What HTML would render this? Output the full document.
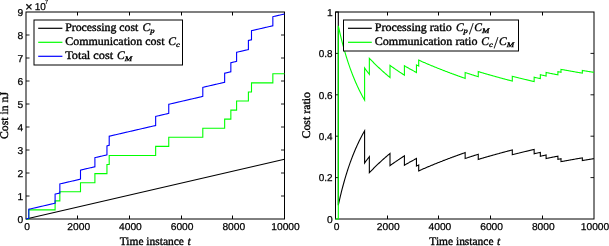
<!DOCTYPE html>
<html><head><meta charset="utf-8"><title>Cost plots</title>
<style>html,body{margin:0;padding:0;background:#fff;}svg{display:block;}text{text-rendering:geometricPrecision;}.tk{font-family:"Liberation Sans",Arial,sans-serif;font-size:10px;fill:#000;stroke:#000;stroke-width:0.25px;}.sr{font-family:"Liberation Serif","Times New Roman",serif;font-size:11.6px;fill:#000;stroke:#000;stroke-width:0.35px;}.it{font-style:italic;}.sub{font-size:7.1px;font-style:italic;}</style></head><body>
<svg width="609" height="246" viewBox="0 0 609 246">
<rect x="0" y="0" width="609" height="246" fill="#fff"/>
<rect x="26.00" y="12.00" width="258.50" height="207.00" fill="none" stroke="#000" stroke-width="1"/>
<path d="M77.50 219.00V215.50M77.50 12.00V15.50" stroke="#000" stroke-width="1" fill="none"/>
<path d="M129.50 219.00V215.50M129.50 12.00V15.50" stroke="#000" stroke-width="1" fill="none"/>
<path d="M181.50 219.00V215.50M181.50 12.00V15.50" stroke="#000" stroke-width="1" fill="none"/>
<path d="M232.50 219.00V215.50M232.50 12.00V15.50" stroke="#000" stroke-width="1" fill="none"/>
<path d="M26.00 196.00H29.50M284.50 196.00H281.00" stroke="#000" stroke-width="0.9" fill="none"/>
<path d="M26.00 173.00H29.50M284.50 173.00H281.00" stroke="#000" stroke-width="0.9" fill="none"/>
<path d="M26.00 150.00H29.50M284.50 150.00H281.00" stroke="#000" stroke-width="0.9" fill="none"/>
<path d="M26.00 127.00H29.50M284.50 127.00H281.00" stroke="#000" stroke-width="0.9" fill="none"/>
<path d="M26.00 104.00H29.50M284.50 104.00H281.00" stroke="#000" stroke-width="0.9" fill="none"/>
<path d="M26.00 81.00H29.50M284.50 81.00H281.00" stroke="#000" stroke-width="0.9" fill="none"/>
<path d="M26.00 58.00H29.50M284.50 58.00H281.00" stroke="#000" stroke-width="0.9" fill="none"/>
<path d="M26.00 35.00H29.50M284.50 35.00H281.00" stroke="#000" stroke-width="0.9" fill="none"/>
<text class="tk" x="27.00" y="229.6" text-anchor="middle" textLength="5.70" lengthAdjust="spacingAndGlyphs">0</text>
<text class="tk" x="78.70" y="229.6" text-anchor="middle" textLength="22.80" lengthAdjust="spacingAndGlyphs">2000</text>
<text class="tk" x="130.40" y="229.6" text-anchor="middle" textLength="22.80" lengthAdjust="spacingAndGlyphs">4000</text>
<text class="tk" x="182.10" y="229.6" text-anchor="middle" textLength="22.80" lengthAdjust="spacingAndGlyphs">6000</text>
<text class="tk" x="233.80" y="229.6" text-anchor="middle" textLength="22.80" lengthAdjust="spacingAndGlyphs">8000</text>
<text class="tk" x="285.50" y="229.6" text-anchor="middle" textLength="28.50" lengthAdjust="spacingAndGlyphs">10000</text>
<text class="tk" x="23.10" y="222.80" text-anchor="end" textLength="5.70" lengthAdjust="spacingAndGlyphs">0</text>
<text class="tk" x="23.10" y="199.80" text-anchor="end" textLength="5.70" lengthAdjust="spacingAndGlyphs">1</text>
<text class="tk" x="23.10" y="176.80" text-anchor="end" textLength="5.70" lengthAdjust="spacingAndGlyphs">2</text>
<text class="tk" x="23.10" y="153.80" text-anchor="end" textLength="5.70" lengthAdjust="spacingAndGlyphs">3</text>
<text class="tk" x="23.10" y="130.80" text-anchor="end" textLength="5.70" lengthAdjust="spacingAndGlyphs">4</text>
<text class="tk" x="23.10" y="107.80" text-anchor="end" textLength="5.70" lengthAdjust="spacingAndGlyphs">5</text>
<text class="tk" x="23.10" y="84.80" text-anchor="end" textLength="5.70" lengthAdjust="spacingAndGlyphs">6</text>
<text class="tk" x="23.10" y="61.80" text-anchor="end" textLength="5.70" lengthAdjust="spacingAndGlyphs">7</text>
<text class="tk" x="23.10" y="38.80" text-anchor="end" textLength="5.70" lengthAdjust="spacingAndGlyphs">8</text>
<text class="tk" x="23.10" y="15.80" text-anchor="end" textLength="5.70" lengthAdjust="spacingAndGlyphs">9</text>
<g fill="none" stroke-width="1.1" stroke-linejoin="miter">
<polyline stroke="#000" points="26.00,219.00 284.50,159.20"/>
<polyline stroke="#00ff00" points="26.00,219.00 26.00,219.00 26.47,219.00 26.93,219.00 27.40,219.00 27.87,219.00 28.33,219.00 28.80,219.00 28.80,209.92 29.32,209.92 29.83,209.92 30.35,209.92 30.86,209.92 31.38,209.92 31.89,209.92 32.41,209.92 32.93,209.92 33.44,209.92 33.96,209.92 34.47,209.92 34.99,209.92 35.50,209.92 36.02,209.92 36.54,209.92 37.05,209.92 37.57,209.92 38.08,209.92 38.60,209.92 39.11,209.92 39.63,209.92 40.15,209.92 40.66,209.92 41.18,209.92 41.69,209.92 42.21,209.92 42.72,209.92 43.24,209.92 43.75,209.92 44.27,209.92 44.79,209.92 45.30,209.92 45.82,209.92 46.33,209.92 46.85,209.92 47.36,209.92 47.88,209.92 48.40,209.92 48.91,209.92 49.43,209.92 49.94,209.92 50.46,209.92 50.97,209.92 51.49,209.92 52.01,209.92 52.52,209.92 53.04,209.92 53.55,209.92 54.07,209.92 54.58,209.92 55.10,209.92 55.10,200.85 55.58,200.85 56.05,200.85 56.53,200.85 57.00,200.85 57.48,200.85 57.95,200.85 58.43,200.85 58.90,200.85 59.38,200.85 59.85,200.85 59.85,191.77 60.37,191.77 60.88,191.77 61.40,191.77 61.92,191.77 62.43,191.77 62.95,191.77 63.46,191.77 63.98,191.77 64.50,191.77 65.01,191.77 65.53,191.77 66.05,191.77 66.56,191.77 67.08,191.77 67.59,191.77 68.11,191.77 68.63,191.77 69.14,191.77 69.66,191.77 70.17,191.77 70.69,191.77 71.21,191.77 71.72,191.77 72.24,191.77 72.76,191.77 73.27,191.77 73.79,191.77 74.31,191.77 74.82,191.77 75.34,191.77 75.85,191.77 76.37,191.77 76.89,191.77 77.40,191.77 77.92,191.77 78.44,191.77 78.95,191.77 79.47,191.77 79.98,191.77 80.50,191.77 80.50,182.70 81.01,182.70 81.53,182.70 82.04,182.70 82.56,182.70 83.07,182.70 83.59,182.70 84.10,182.70 84.61,182.70 85.13,182.70 85.64,182.70 86.16,182.70 86.67,182.70 87.19,182.70 87.70,182.70 88.21,182.70 88.73,182.70 89.24,182.70 89.76,182.70 90.27,182.70 90.79,182.70 91.30,182.70 91.81,182.70 92.33,182.70 92.84,182.70 93.36,182.70 93.87,182.70 94.39,182.70 94.90,182.70 94.90,173.62 95.40,173.62 95.90,173.62 96.41,173.62 96.91,173.62 97.41,173.62 97.91,173.62 98.41,173.62 98.92,173.62 99.42,173.62 99.92,173.62 100.42,173.62 100.92,173.62 101.43,173.62 101.93,173.62 102.43,173.62 102.93,173.62 103.44,173.62 103.94,173.62 104.44,173.62 104.94,173.62 105.44,173.62 105.95,173.62 106.45,173.62 106.95,173.62 106.95,164.55 107.40,164.55 107.85,164.55 108.30,164.55 108.75,164.55 109.20,164.55 109.20,155.47 109.72,155.47 110.23,155.47 110.75,155.47 111.26,155.47 111.78,155.47 112.30,155.47 112.81,155.47 113.33,155.47 113.85,155.47 114.36,155.47 114.88,155.47 115.39,155.47 115.91,155.47 116.43,155.47 116.94,155.47 117.46,155.47 117.97,155.47 118.49,155.47 119.01,155.47 119.52,155.47 120.04,155.47 120.55,155.47 121.07,155.47 121.59,155.47 122.10,155.47 122.62,155.47 123.14,155.47 123.65,155.47 124.17,155.47 124.68,155.47 125.20,155.47 125.72,155.47 126.23,155.47 126.75,155.47 127.26,155.47 127.78,155.47 128.30,155.47 128.81,155.47 129.33,155.47 129.84,155.47 130.36,155.47 130.88,155.47 131.39,155.47 131.91,155.47 132.43,155.47 132.94,155.47 133.46,155.47 133.97,155.47 134.49,155.47 135.01,155.47 135.52,155.47 136.04,155.47 136.55,155.47 137.07,155.47 137.59,155.47 138.10,155.47 138.62,155.47 139.13,155.47 139.65,155.47 140.17,155.47 140.68,155.47 141.20,155.47 141.72,155.47 142.23,155.47 142.75,155.47 143.26,155.47 143.78,155.47 144.30,155.47 144.81,155.47 145.33,155.47 145.84,155.47 146.36,155.47 146.88,155.47 147.39,155.47 147.91,155.47 148.42,155.47 148.94,155.47 149.46,155.47 149.97,155.47 150.49,155.47 151.00,155.47 151.52,155.47 152.04,155.47 152.55,155.47 153.07,155.47 153.59,155.47 154.10,155.47 154.62,155.47 155.13,155.47 155.65,155.47 155.65,146.39 156.15,146.39 156.66,146.39 157.16,146.39 157.67,146.39 158.17,146.39 158.67,146.39 159.18,146.39 159.68,146.39 160.18,146.39 160.69,146.39 161.19,146.39 161.70,146.39 162.20,146.39 162.70,146.39 163.21,146.39 163.71,146.39 164.22,146.39 164.72,146.39 165.22,146.39 165.73,146.39 166.23,146.39 166.73,146.39 167.24,146.39 167.74,146.39 168.25,146.39 168.75,146.39 168.75,137.32 169.27,137.32 169.78,137.32 170.30,137.32 170.81,137.32 171.33,137.32 171.85,137.32 172.36,137.32 172.88,137.32 173.39,137.32 173.91,137.32 174.43,137.32 174.94,137.32 175.46,137.32 175.97,137.32 176.49,137.32 177.00,137.32 177.52,137.32 178.04,137.32 178.55,137.32 179.07,137.32 179.58,137.32 180.10,137.32 180.62,137.32 181.13,137.32 181.65,137.32 182.16,137.32 182.68,137.32 183.20,137.32 183.71,137.32 184.23,137.32 184.74,137.32 185.26,137.32 185.78,137.32 186.29,137.32 186.81,137.32 187.32,137.32 187.84,137.32 188.35,137.32 188.87,137.32 189.39,137.32 189.90,137.32 190.42,137.32 190.93,137.32 191.45,137.32 191.97,137.32 192.48,137.32 193.00,137.32 193.51,137.32 194.03,137.32 194.55,137.32 195.06,137.32 195.58,137.32 196.09,137.32 196.61,137.32 197.12,137.32 197.64,137.32 198.16,137.32 198.67,137.32 199.19,137.32 199.70,137.32 200.22,137.32 200.74,137.32 201.25,137.32 201.77,137.32 202.28,137.32 202.80,137.32 202.80,128.24 203.31,128.24 203.82,128.24 204.32,128.24 204.83,128.24 205.34,128.24 205.85,128.24 206.36,128.24 206.87,128.24 207.37,128.24 207.88,128.24 208.39,128.24 208.90,128.24 209.41,128.24 209.91,128.24 210.42,128.24 210.93,128.24 211.44,128.24 211.95,128.24 212.45,128.24 212.96,128.24 213.47,128.24 213.98,128.24 214.49,128.24 215.00,128.24 215.50,128.24 216.01,128.24 216.52,128.24 217.03,128.24 217.54,128.24 218.04,128.24 218.55,128.24 219.06,128.24 219.57,128.24 220.08,128.24 220.58,128.24 221.09,128.24 221.60,128.24 222.11,128.24 222.62,128.24 223.13,128.24 223.63,128.24 224.14,128.24 224.65,128.24 224.65,119.17 225.17,119.17 225.68,119.17 226.20,119.17 226.72,119.17 227.23,119.17 227.75,119.17 228.27,119.17 228.78,119.17 229.30,119.17 229.82,119.17 230.33,119.17 230.85,119.17 230.85,110.09 231.33,110.09 231.81,110.09 232.29,110.09 232.77,110.09 233.25,110.09 233.73,110.09 234.20,110.09 234.68,110.09 235.16,110.09 235.64,110.09 236.12,110.09 236.60,110.09 236.60,101.01 237.11,101.01 237.63,101.01 238.14,101.01 238.65,101.01 239.17,101.01 239.68,101.01 240.19,101.01 240.70,101.01 241.22,101.01 241.73,101.01 242.24,101.01 242.76,101.01 243.27,101.01 243.78,101.01 244.30,101.01 244.81,101.01 245.32,101.01 245.83,101.01 246.35,101.01 246.86,101.01 247.37,101.01 247.89,101.01 248.40,101.01 248.40,91.94 248.92,91.94 249.43,91.94 249.95,91.94 250.47,91.94 250.98,91.94 251.50,91.94 251.50,82.86 252.01,82.86 252.52,82.86 253.02,82.86 253.53,82.86 254.04,82.86 254.55,82.86 255.06,82.86 255.57,82.86 256.07,82.86 256.58,82.86 257.09,82.86 257.60,82.86 258.11,82.86 258.62,82.86 259.12,82.86 259.63,82.86 260.14,82.86 260.65,82.86 261.16,82.86 261.67,82.86 262.17,82.86 262.68,82.86 263.19,82.86 263.70,82.86 264.21,82.86 264.72,82.86 265.23,82.86 265.73,82.86 266.24,82.86 266.75,82.86 267.26,82.86 267.77,82.86 268.27,82.86 268.78,82.86 269.29,82.86 269.80,82.86 270.31,82.86 270.82,82.86 271.32,82.86 271.83,82.86 272.34,82.86 272.85,82.86 272.85,73.79 273.36,73.79 273.86,73.79 274.37,73.79 274.88,73.79 275.38,73.79 275.89,73.79 276.40,73.79 276.90,73.79 277.41,73.79 277.92,73.79 278.42,73.79 278.93,73.79 279.43,73.79 279.94,73.79 280.45,73.79 280.95,73.79 281.46,73.79 281.97,73.79 282.47,73.79 282.98,73.79 283.49,73.79 283.99,73.79 284.50,73.79"/>
<polyline stroke="#0000ff" points="26.00,219.00 26.00,219.00 26.47,218.89 26.93,218.78 27.40,218.68 27.87,218.57 28.33,218.46 28.80,218.35 28.80,209.28 29.32,209.16 29.83,209.04 30.35,208.92 30.86,208.80 31.38,208.68 31.89,208.56 32.41,208.44 32.93,208.32 33.44,208.20 33.96,208.08 34.47,207.96 34.99,207.84 35.50,207.73 36.02,207.61 36.54,207.49 37.05,207.37 37.57,207.25 38.08,207.13 38.60,207.01 39.11,206.89 39.63,206.77 40.15,206.65 40.66,206.53 41.18,206.41 41.69,206.29 42.21,206.17 42.72,206.06 43.24,205.94 43.75,205.82 44.27,205.70 44.79,205.58 45.30,205.46 45.82,205.34 46.33,205.22 46.85,205.10 47.36,204.98 47.88,204.86 48.40,204.74 48.91,204.62 49.43,204.50 49.94,204.39 50.46,204.27 50.97,204.15 51.49,204.03 52.01,203.91 52.52,203.79 53.04,203.67 53.55,203.55 54.07,203.43 54.58,203.31 55.10,203.19 55.10,194.12 55.58,194.01 56.05,193.90 56.53,193.79 57.00,193.68 57.48,193.57 57.95,193.46 58.43,193.35 58.90,193.24 59.38,193.13 59.85,193.02 59.85,183.94 60.37,183.82 60.88,183.70 61.40,183.58 61.92,183.46 62.43,183.34 62.95,183.23 63.46,183.11 63.98,182.99 64.50,182.87 65.01,182.75 65.53,182.63 66.05,182.51 66.56,182.39 67.08,182.27 67.59,182.15 68.11,182.03 68.63,181.91 69.14,181.79 69.66,181.67 70.17,181.55 70.69,181.43 71.21,181.31 71.72,181.20 72.24,181.08 72.76,180.96 73.27,180.84 73.79,180.72 74.31,180.60 74.82,180.48 75.34,180.36 75.85,180.24 76.37,180.12 76.89,180.00 77.40,179.88 77.92,179.76 78.44,179.64 78.95,179.52 79.47,179.40 79.98,179.28 80.50,179.16 80.50,170.09 81.01,169.97 81.53,169.85 82.04,169.73 82.56,169.61 83.07,169.49 83.59,169.38 84.10,169.26 84.61,169.14 85.13,169.02 85.64,168.90 86.16,168.78 86.67,168.66 87.19,168.54 87.70,168.42 88.21,168.30 88.73,168.19 89.24,168.07 89.76,167.95 90.27,167.83 90.79,167.71 91.30,167.59 91.81,167.47 92.33,167.35 92.84,167.23 93.36,167.11 93.87,167.00 94.39,166.88 94.90,166.76 94.90,157.68 95.40,157.57 95.90,157.45 96.41,157.33 96.91,157.22 97.41,157.10 97.91,156.99 98.41,156.87 98.92,156.75 99.42,156.64 99.92,156.52 100.42,156.40 100.92,156.29 101.43,156.17 101.93,156.06 102.43,155.94 102.93,155.82 103.44,155.71 103.94,155.59 104.44,155.48 104.94,155.36 105.44,155.24 105.95,155.13 106.45,155.01 106.95,154.89 106.95,145.82 107.40,145.71 107.85,145.61 108.30,145.51 108.75,145.40 109.20,145.30 109.20,136.22 109.72,136.10 110.23,135.98 110.75,135.86 111.26,135.74 111.78,135.63 112.30,135.51 112.81,135.39 113.33,135.27 113.85,135.15 114.36,135.03 114.88,134.91 115.39,134.79 115.91,134.67 116.43,134.55 116.94,134.43 117.46,134.31 117.97,134.19 118.49,134.07 119.01,133.95 119.52,133.83 120.04,133.72 120.55,133.60 121.07,133.48 121.59,133.36 122.10,133.24 122.62,133.12 123.14,133.00 123.65,132.88 124.17,132.76 124.68,132.64 125.20,132.52 125.72,132.40 126.23,132.28 126.75,132.16 127.26,132.04 127.78,131.92 128.30,131.80 128.81,131.69 129.33,131.57 129.84,131.45 130.36,131.33 130.88,131.21 131.39,131.09 131.91,130.97 132.43,130.85 132.94,130.73 133.46,130.61 133.97,130.49 134.49,130.37 135.01,130.25 135.52,130.13 136.04,130.01 136.55,129.89 137.07,129.78 137.59,129.66 138.10,129.54 138.62,129.42 139.13,129.30 139.65,129.18 140.17,129.06 140.68,128.94 141.20,128.82 141.72,128.70 142.23,128.58 142.75,128.46 143.26,128.34 143.78,128.22 144.30,128.10 144.81,127.98 145.33,127.86 145.84,127.75 146.36,127.63 146.88,127.51 147.39,127.39 147.91,127.27 148.42,127.15 148.94,127.03 149.46,126.91 149.97,126.79 150.49,126.67 151.00,126.55 151.52,126.43 152.04,126.31 152.55,126.19 153.07,126.07 153.59,125.95 154.10,125.84 154.62,125.72 155.13,125.60 155.65,125.48 155.65,116.40 156.15,116.28 156.66,116.17 157.16,116.05 157.67,115.93 158.17,115.82 158.67,115.70 159.18,115.59 159.68,115.47 160.18,115.35 160.69,115.24 161.19,115.12 161.70,115.00 162.20,114.89 162.70,114.77 163.21,114.65 163.71,114.54 164.22,114.42 164.72,114.30 165.22,114.19 165.73,114.07 166.23,113.95 166.73,113.84 167.24,113.72 167.74,113.60 168.25,113.49 168.75,113.37 168.75,104.29 169.27,104.18 169.78,104.06 170.30,103.94 170.81,103.82 171.33,103.70 171.85,103.58 172.36,103.46 172.88,103.34 173.39,103.22 173.91,103.10 174.43,102.98 174.94,102.86 175.46,102.74 175.97,102.62 176.49,102.50 177.00,102.39 177.52,102.27 178.04,102.15 178.55,102.03 179.07,101.91 179.58,101.79 180.10,101.67 180.62,101.55 181.13,101.43 181.65,101.31 182.16,101.19 182.68,101.07 183.20,100.95 183.71,100.83 184.23,100.71 184.74,100.60 185.26,100.48 185.78,100.36 186.29,100.24 186.81,100.12 187.32,100.00 187.84,99.88 188.35,99.76 188.87,99.64 189.39,99.52 189.90,99.40 190.42,99.28 190.93,99.16 191.45,99.04 191.97,98.92 192.48,98.80 193.00,98.69 193.51,98.57 194.03,98.45 194.55,98.33 195.06,98.21 195.58,98.09 196.09,97.97 196.61,97.85 197.12,97.73 197.64,97.61 198.16,97.49 198.67,97.37 199.19,97.25 199.70,97.13 200.22,97.01 200.74,96.90 201.25,96.78 201.77,96.66 202.28,96.54 202.80,96.42 202.80,87.34 203.31,87.22 203.82,87.11 204.32,86.99 204.83,86.87 205.34,86.75 205.85,86.64 206.36,86.52 206.87,86.40 207.37,86.28 207.88,86.17 208.39,86.05 208.90,85.93 209.41,85.81 209.91,85.70 210.42,85.58 210.93,85.46 211.44,85.34 211.95,85.23 212.45,85.11 212.96,84.99 213.47,84.87 213.98,84.76 214.49,84.64 215.00,84.52 215.50,84.40 216.01,84.29 216.52,84.17 217.03,84.05 217.54,83.93 218.04,83.82 218.55,83.70 219.06,83.58 219.57,83.46 220.08,83.35 220.58,83.23 221.09,83.11 221.60,82.99 222.11,82.88 222.62,82.76 223.13,82.64 223.63,82.52 224.14,82.40 224.65,82.29 224.65,73.21 225.17,73.09 225.68,72.97 226.20,72.85 226.72,72.73 227.23,72.61 227.75,72.49 228.27,72.37 228.78,72.26 229.30,72.14 229.82,72.02 230.33,71.90 230.85,71.78 230.85,62.70 231.33,62.59 231.81,62.48 232.29,62.37 232.77,62.26 233.25,62.15 233.73,62.04 234.20,61.93 234.68,61.81 235.16,61.70 235.64,61.59 236.12,61.48 236.60,61.37 236.60,52.30 237.11,52.18 237.63,52.06 238.14,51.94 238.65,51.82 239.17,51.70 239.68,51.58 240.19,51.46 240.70,51.35 241.22,51.23 241.73,51.11 242.24,50.99 242.76,50.87 243.27,50.75 243.78,50.63 244.30,50.52 244.81,50.40 245.32,50.28 245.83,50.16 246.35,50.04 246.86,49.92 247.37,49.80 247.89,49.68 248.40,49.57 248.40,40.49 248.92,40.37 249.43,40.25 249.95,40.13 250.47,40.01 250.98,39.89 251.50,39.77 251.50,30.70 252.01,30.58 252.52,30.46 253.02,30.34 253.53,30.23 254.04,30.11 254.55,29.99 255.06,29.87 255.57,29.76 256.07,29.64 256.58,29.52 257.09,29.40 257.60,29.29 258.11,29.17 258.62,29.05 259.12,28.93 259.63,28.82 260.14,28.70 260.65,28.58 261.16,28.46 261.67,28.35 262.17,28.23 262.68,28.11 263.19,27.99 263.70,27.87 264.21,27.76 264.72,27.64 265.23,27.52 265.73,27.40 266.24,27.29 266.75,27.17 267.26,27.05 267.77,26.93 268.27,26.82 268.78,26.70 269.29,26.58 269.80,26.46 270.31,26.35 270.82,26.23 271.32,26.11 271.83,25.99 272.34,25.88 272.85,25.76 272.85,16.68 273.36,16.57 273.86,16.45 274.37,16.33 274.88,16.21 275.38,16.10 275.89,15.98 276.40,15.86 276.90,15.74 277.41,15.63 277.92,15.51 278.42,15.39 278.93,15.28 279.43,15.16 279.94,15.04 280.45,14.92 280.95,14.81 281.46,14.69 281.97,14.57 282.47,14.46 282.98,14.34 283.49,14.22 283.99,14.10 284.50,13.99"/>
</g>
<text class="tk" x="25.2" y="10.6" style="font-size:12.5px">×</text>
<text class="tk" x="34.8" y="9.7">10</text>
<text class="tk" x="44.8" y="4.0" style="font-size:6.3px;stroke-width:0.15px">7</text>
<text class="sr" transform="translate(8.0,115.5) rotate(-90)" text-anchor="middle" textLength="47" lengthAdjust="spacingAndGlyphs">Cost in nJ</text>
<text class="sr" x="119.7" y="245.4"><tspan textLength="64.2" lengthAdjust="spacingAndGlyphs">Time instance</tspan><tspan class="it" x="187.4">t</tspan></text>
<rect x="34.0" y="20.0" width="148.5" height="45.0" fill="#fff" stroke="#000" stroke-width="1"/>
<path d="M38.2 28.30H62.4" stroke="#000" stroke-width="1.2" fill="none"/>
<path d="M38.2 42.30H62.4" stroke="#00ff00" stroke-width="1.2" fill="none"/>
<path d="M38.2 56.30H62.4" stroke="#0000ff" stroke-width="1.2" fill="none"/>
<text class="sr" x="65.2" y="31.4"><tspan textLength="73.2" lengthAdjust="spacingAndGlyphs">Processing cost</tspan><tspan class="it" x="142.6">C</tspan><tspan class="sub" dy="1.8" textLength="4.3" lengthAdjust="spacingAndGlyphs">p</tspan></text>
<text class="sr" x="65.2" y="45.4"><tspan textLength="99.3" lengthAdjust="spacingAndGlyphs">Communication cost</tspan><tspan class="it" x="168.2">C</tspan><tspan class="sub" dy="1.8" textLength="3.8" lengthAdjust="spacingAndGlyphs">c</tspan></text>
<text class="sr" x="65.2" y="59.4"><tspan textLength="48" lengthAdjust="spacingAndGlyphs">Total cost</tspan><tspan class="it" x="117">C</tspan><tspan class="sub" dy="1.8" textLength="7.4" lengthAdjust="spacingAndGlyphs">M</tspan></text>
<rect x="335.50" y="12.00" width="258.50" height="207.00" fill="none" stroke="#000" stroke-width="1"/>
<path d="M387.50 219.00V215.50M387.50 12.00V15.50" stroke="#000" stroke-width="1" fill="none"/>
<path d="M438.50 219.00V215.50M438.50 12.00V15.50" stroke="#000" stroke-width="1" fill="none"/>
<path d="M490.50 219.00V215.50M490.50 12.00V15.50" stroke="#000" stroke-width="1" fill="none"/>
<path d="M542.50 219.00V215.50M542.50 12.00V15.50" stroke="#000" stroke-width="1" fill="none"/>
<path d="M335.50 177.60H339.00M594.00 177.60H590.50" stroke="#000" stroke-width="0.9" fill="none"/>
<path d="M335.50 136.20H339.00M594.00 136.20H590.50" stroke="#000" stroke-width="0.9" fill="none"/>
<path d="M335.50 94.80H339.00M594.00 94.80H590.50" stroke="#000" stroke-width="0.9" fill="none"/>
<path d="M335.50 53.40H339.00M594.00 53.40H590.50" stroke="#000" stroke-width="0.9" fill="none"/>
<text class="tk" x="336.50" y="229.6" text-anchor="middle" textLength="5.70" lengthAdjust="spacingAndGlyphs">0</text>
<text class="tk" x="388.20" y="229.6" text-anchor="middle" textLength="22.80" lengthAdjust="spacingAndGlyphs">2000</text>
<text class="tk" x="439.90" y="229.6" text-anchor="middle" textLength="22.80" lengthAdjust="spacingAndGlyphs">4000</text>
<text class="tk" x="491.60" y="229.6" text-anchor="middle" textLength="22.80" lengthAdjust="spacingAndGlyphs">6000</text>
<text class="tk" x="543.30" y="229.6" text-anchor="middle" textLength="22.80" lengthAdjust="spacingAndGlyphs">8000</text>
<text class="tk" x="595.00" y="229.6" text-anchor="middle" textLength="28.50" lengthAdjust="spacingAndGlyphs">10000</text>
<text class="tk" x="332.60" y="222.80" text-anchor="end" textLength="5.70" lengthAdjust="spacingAndGlyphs">0</text>
<text class="tk" x="332.60" y="181.40" text-anchor="end" textLength="13.80" lengthAdjust="spacingAndGlyphs">0.2</text>
<text class="tk" x="332.60" y="140.00" text-anchor="end" textLength="13.80" lengthAdjust="spacingAndGlyphs">0.4</text>
<text class="tk" x="332.60" y="98.60" text-anchor="end" textLength="13.80" lengthAdjust="spacingAndGlyphs">0.6</text>
<text class="tk" x="332.60" y="57.20" text-anchor="end" textLength="13.80" lengthAdjust="spacingAndGlyphs">0.8</text>
<text class="tk" x="332.60" y="15.80" text-anchor="end" textLength="5.70" lengthAdjust="spacingAndGlyphs">1</text>
<g fill="none" stroke-width="1.1" stroke-linejoin="miter">
<polyline stroke="#000" points="335.50,12.00 335.50,12.00 335.97,12.00 336.43,12.00 336.90,12.00 337.37,12.00 337.83,12.00 338.30,12.00 338.30,205.21 338.82,202.87 339.33,200.58 339.85,198.35 340.36,196.17 340.88,194.04 341.39,191.96 341.91,189.93 342.43,187.94 342.94,186.00 343.46,184.10 343.97,182.24 344.49,180.42 345.00,178.63 345.52,176.89 346.04,175.18 346.55,173.51 347.07,171.87 347.58,170.26 348.10,168.69 348.61,167.14 349.13,165.63 349.65,164.14 350.16,162.69 350.68,161.26 351.19,159.86 351.71,158.48 352.22,157.13 352.74,155.81 353.25,154.51 353.77,153.23 354.29,151.97 354.80,150.74 355.32,149.53 355.83,148.34 356.35,147.17 356.86,146.02 357.38,144.89 357.90,143.78 358.41,142.68 358.93,141.61 359.44,140.55 359.96,139.51 360.47,138.48 360.99,137.48 361.51,136.48 362.02,135.51 362.54,134.55 363.05,133.60 363.57,132.67 364.08,131.75 364.60,130.85 364.60,163.00 365.07,162.34 365.55,161.68 366.02,161.03 366.50,160.38 366.98,159.74 367.45,159.10 367.93,158.47 368.40,157.85 368.88,157.23 369.35,156.61 369.35,172.76 369.87,172.22 370.38,171.68 370.90,171.14 371.42,170.60 371.93,170.07 372.45,169.54 372.96,169.02 373.48,168.50 374.00,167.98 374.51,167.47 375.03,166.96 375.55,166.45 376.06,165.95 376.58,165.45 377.09,164.95 377.61,164.45 378.13,163.96 378.64,163.48 379.16,162.99 379.68,162.51 380.19,162.03 380.71,161.56 381.22,161.08 381.74,160.61 382.26,160.15 382.77,159.68 383.29,159.22 383.81,158.76 384.32,158.31 384.84,157.86 385.35,157.41 385.87,156.96 386.39,156.52 386.90,156.08 387.42,155.64 387.94,155.20 388.45,154.77 388.97,154.34 389.48,153.91 390.00,153.48 390.00,165.64 390.51,165.27 391.03,164.90 391.54,164.53 392.06,164.16 392.57,163.80 393.09,163.43 393.60,163.07 394.11,162.71 394.63,162.35 395.14,161.99 395.66,161.64 396.17,161.28 396.69,160.93 397.20,160.58 397.71,160.23 398.23,159.89 398.74,159.54 399.26,159.20 399.77,158.85 400.29,158.51 400.80,158.18 401.31,157.84 401.83,157.50 402.34,157.17 402.86,156.83 403.37,156.50 403.89,156.17 404.40,155.84 404.40,165.19 404.90,164.90 405.40,164.61 405.91,164.33 406.41,164.04 406.91,163.76 407.41,163.47 407.91,163.19 408.42,162.91 408.92,162.62 409.42,162.34 409.92,162.07 410.43,161.79 410.93,161.51 411.43,161.23 411.93,160.96 412.43,160.69 412.94,160.41 413.44,160.14 413.94,159.87 414.44,159.60 414.94,159.33 415.45,159.06 415.95,158.80 416.45,158.53 416.45,166.03 416.90,165.81 417.35,165.59 417.80,165.38 418.25,165.16 418.70,164.94 418.70,170.87 419.22,170.64 419.73,170.41 420.25,170.18 420.76,169.96 421.28,169.73 421.80,169.51 422.31,169.28 422.83,169.06 423.35,168.83 423.86,168.61 424.38,168.39 424.89,168.17 425.41,167.95 425.93,167.72 426.44,167.51 426.96,167.29 427.47,167.07 427.99,166.85 428.51,166.63 429.02,166.41 429.54,166.20 430.05,165.98 430.57,165.77 431.09,165.55 431.60,165.34 432.12,165.13 432.63,164.91 433.15,164.70 433.67,164.49 434.18,164.28 434.70,164.07 435.22,163.86 435.73,163.65 436.25,163.44 436.76,163.23 437.28,163.03 437.80,162.82 438.31,162.61 438.83,162.41 439.34,162.20 439.86,162.00 440.38,161.80 440.89,161.59 441.41,161.39 441.93,161.19 442.44,160.98 442.96,160.78 443.47,160.58 443.99,160.38 444.51,160.18 445.02,159.98 445.54,159.79 446.05,159.59 446.57,159.39 447.09,159.19 447.60,159.00 448.12,158.80 448.63,158.60 449.15,158.41 449.67,158.22 450.18,158.02 450.70,157.83 451.22,157.64 451.73,157.44 452.25,157.25 452.76,157.06 453.28,156.87 453.80,156.68 454.31,156.49 454.83,156.30 455.34,156.11 455.86,155.92 456.38,155.74 456.89,155.55 457.41,155.36 457.92,155.17 458.44,154.99 458.96,154.80 459.47,154.62 459.99,154.43 460.50,154.25 461.02,154.07 461.54,153.88 462.05,153.70 462.57,153.52 463.09,153.34 463.60,153.16 464.12,152.98 464.63,152.80 465.15,152.62 465.15,158.49 465.65,158.32 466.16,158.16 466.66,157.99 467.17,157.83 467.67,157.66 468.17,157.50 468.68,157.33 469.18,157.17 469.68,157.01 470.19,156.84 470.69,156.68 471.20,156.52 471.70,156.36 472.20,156.19 472.71,156.03 473.21,155.87 473.72,155.71 474.22,155.55 474.72,155.39 475.23,155.23 475.73,155.07 476.23,154.92 476.74,154.76 477.24,154.60 477.75,154.44 478.25,154.29 478.25,159.41 478.77,159.25 479.28,159.10 479.80,158.95 480.31,158.79 480.83,158.64 481.35,158.49 481.86,158.34 482.38,158.19 482.89,158.04 483.41,157.89 483.93,157.74 484.44,157.59 484.96,157.44 485.47,157.29 485.99,157.14 486.50,156.99 487.02,156.84 487.54,156.70 488.05,156.55 488.57,156.40 489.08,156.25 489.60,156.11 490.12,155.96 490.63,155.81 491.15,155.67 491.66,155.52 492.18,155.38 492.70,155.23 493.21,155.09 493.73,154.94 494.24,154.80 494.76,154.66 495.27,154.51 495.79,154.37 496.31,154.23 496.82,154.08 497.34,153.94 497.85,153.80 498.37,153.66 498.89,153.52 499.40,153.37 499.92,153.23 500.43,153.09 500.95,152.95 501.47,152.81 501.98,152.67 502.50,152.53 503.01,152.39 503.53,152.26 504.05,152.12 504.56,151.98 505.08,151.84 505.59,151.70 506.11,151.56 506.62,151.43 507.14,151.29 507.66,151.15 508.17,151.02 508.69,150.88 509.20,150.74 509.72,150.61 510.24,150.47 510.75,150.34 511.27,150.20 511.78,150.07 512.30,149.93 512.30,154.69 512.81,154.57 513.32,154.44 513.82,154.31 514.33,154.19 514.84,154.06 515.35,153.93 515.86,153.81 516.37,153.68 516.87,153.56 517.38,153.43 517.89,153.31 518.40,153.18 518.91,153.06 519.41,152.93 519.92,152.81 520.43,152.69 520.94,152.56 521.45,152.44 521.95,152.31 522.46,152.19 522.97,152.07 523.48,151.95 523.99,151.82 524.50,151.70 525.00,151.58 525.51,151.46 526.02,151.34 526.53,151.21 527.04,151.09 527.54,150.97 528.05,150.85 528.56,150.73 529.07,150.61 529.58,150.49 530.08,150.37 530.59,150.25 531.10,150.13 531.61,150.01 532.12,149.89 532.63,149.77 533.13,149.66 533.64,149.54 534.15,149.42 534.15,153.75 534.67,153.63 535.18,153.52 535.70,153.40 536.22,153.29 536.73,153.17 537.25,153.06 537.77,152.94 538.28,152.83 538.80,152.71 539.32,152.60 539.83,152.48 540.35,152.37 540.35,156.24 540.83,156.14 541.31,156.03 541.79,155.93 542.27,155.83 542.75,155.73 543.23,155.63 543.70,155.53 544.18,155.42 544.66,155.32 545.14,155.22 545.62,155.12 546.10,155.02 546.10,158.50 546.61,158.40 547.13,158.30 547.64,158.19 548.15,158.09 548.67,157.98 549.18,157.88 549.69,157.78 550.20,157.67 550.72,157.57 551.23,157.47 551.74,157.37 552.26,157.26 552.77,157.16 553.28,157.06 553.80,156.96 554.31,156.85 554.82,156.75 555.33,156.65 555.85,156.55 556.36,156.45 556.87,156.35 557.39,156.25 557.90,156.14 557.90,159.34 558.42,159.24 558.93,159.14 559.45,159.04 559.97,158.95 560.48,158.85 561.00,158.75 561.00,161.65 561.51,161.56 562.02,161.47 562.52,161.37 563.03,161.28 563.54,161.19 564.05,161.10 564.56,161.00 565.07,160.91 565.58,160.82 566.08,160.73 566.59,160.63 567.10,160.54 567.61,160.45 568.12,160.36 568.62,160.27 569.13,160.17 569.64,160.08 570.15,159.99 570.66,159.90 571.17,159.81 571.67,159.72 572.18,159.63 572.69,159.54 573.20,159.44 573.71,159.35 574.22,159.26 574.73,159.17 575.23,159.08 575.74,158.99 576.25,158.90 576.76,158.81 577.27,158.72 577.77,158.63 578.28,158.54 578.79,158.45 579.30,158.36 579.81,158.27 580.32,158.19 580.83,158.10 581.33,158.01 581.84,157.92 582.35,157.83 582.35,160.57 582.86,160.49 583.36,160.40 583.87,160.32 584.38,160.23 584.88,160.14 585.39,160.06 585.90,159.97 586.40,159.89 586.91,159.80 587.42,159.72 587.92,159.63 588.43,159.55 588.93,159.46 589.44,159.38 589.95,159.29 590.45,159.21 590.96,159.12 591.47,159.04 591.97,158.96 592.48,158.87 592.99,158.79 593.49,158.70 594.00,158.62"/>
<polyline stroke="#00ff00" points="335.50,219.00 335.50,219.00 335.97,219.00 336.43,219.00 336.90,219.00 337.37,219.00 337.83,219.00 338.30,219.00 338.30,25.79 338.82,28.13 339.33,30.42 339.85,32.65 340.36,34.83 340.88,36.96 341.39,39.04 341.91,41.07 342.43,43.06 342.94,45.00 343.46,46.90 343.97,48.76 344.49,50.58 345.00,52.37 345.52,54.11 346.04,55.82 346.55,57.49 347.07,59.13 347.58,60.74 348.10,62.31 348.61,63.86 349.13,65.37 349.65,66.86 350.16,68.31 350.68,69.74 351.19,71.14 351.71,72.52 352.22,73.87 352.74,75.19 353.25,76.49 353.77,77.77 354.29,79.03 354.80,80.26 355.32,81.47 355.83,82.66 356.35,83.83 356.86,84.98 357.38,86.11 357.90,87.22 358.41,88.32 358.93,89.39 359.44,90.45 359.96,91.49 360.47,92.52 360.99,93.52 361.51,94.52 362.02,95.49 362.54,96.45 363.05,97.40 363.57,98.33 364.08,99.25 364.60,100.15 364.60,68.00 365.07,68.66 365.55,69.32 366.02,69.97 366.50,70.62 366.98,71.26 367.45,71.90 367.93,72.53 368.40,73.15 368.88,73.77 369.35,74.39 369.35,58.24 369.87,58.78 370.38,59.32 370.90,59.86 371.42,60.40 371.93,60.93 372.45,61.46 372.96,61.98 373.48,62.50 374.00,63.02 374.51,63.53 375.03,64.04 375.55,64.55 376.06,65.05 376.58,65.55 377.09,66.05 377.61,66.55 378.13,67.04 378.64,67.52 379.16,68.01 379.68,68.49 380.19,68.97 380.71,69.44 381.22,69.92 381.74,70.39 382.26,70.85 382.77,71.32 383.29,71.78 383.81,72.24 384.32,72.69 384.84,73.14 385.35,73.59 385.87,74.04 386.39,74.48 386.90,74.92 387.42,75.36 387.94,75.80 388.45,76.23 388.97,76.66 389.48,77.09 390.00,77.52 390.00,65.36 390.51,65.73 391.03,66.10 391.54,66.47 392.06,66.84 392.57,67.20 393.09,67.57 393.60,67.93 394.11,68.29 394.63,68.65 395.14,69.01 395.66,69.36 396.17,69.72 396.69,70.07 397.20,70.42 397.71,70.77 398.23,71.11 398.74,71.46 399.26,71.80 399.77,72.15 400.29,72.49 400.80,72.82 401.31,73.16 401.83,73.50 402.34,73.83 402.86,74.17 403.37,74.50 403.89,74.83 404.40,75.16 404.40,65.81 404.90,66.10 405.40,66.39 405.91,66.67 406.41,66.96 406.91,67.24 407.41,67.53 407.91,67.81 408.42,68.09 408.92,68.38 409.42,68.66 409.92,68.93 410.43,69.21 410.93,69.49 411.43,69.77 411.93,70.04 412.43,70.31 412.94,70.59 413.44,70.86 413.94,71.13 414.44,71.40 414.94,71.67 415.45,71.94 415.95,72.20 416.45,72.47 416.45,64.97 416.90,65.19 417.35,65.41 417.80,65.62 418.25,65.84 418.70,66.06 418.70,60.13 419.22,60.36 419.73,60.59 420.25,60.82 420.76,61.04 421.28,61.27 421.80,61.49 422.31,61.72 422.83,61.94 423.35,62.17 423.86,62.39 424.38,62.61 424.89,62.83 425.41,63.05 425.93,63.28 426.44,63.49 426.96,63.71 427.47,63.93 427.99,64.15 428.51,64.37 429.02,64.59 429.54,64.80 430.05,65.02 430.57,65.23 431.09,65.45 431.60,65.66 432.12,65.87 432.63,66.09 433.15,66.30 433.67,66.51 434.18,66.72 434.70,66.93 435.22,67.14 435.73,67.35 436.25,67.56 436.76,67.77 437.28,67.97 437.80,68.18 438.31,68.39 438.83,68.59 439.34,68.80 439.86,69.00 440.38,69.20 440.89,69.41 441.41,69.61 441.93,69.81 442.44,70.02 442.96,70.22 443.47,70.42 443.99,70.62 444.51,70.82 445.02,71.02 445.54,71.21 446.05,71.41 446.57,71.61 447.09,71.81 447.60,72.00 448.12,72.20 448.63,72.40 449.15,72.59 449.67,72.78 450.18,72.98 450.70,73.17 451.22,73.36 451.73,73.56 452.25,73.75 452.76,73.94 453.28,74.13 453.80,74.32 454.31,74.51 454.83,74.70 455.34,74.89 455.86,75.08 456.38,75.26 456.89,75.45 457.41,75.64 457.92,75.83 458.44,76.01 458.96,76.20 459.47,76.38 459.99,76.57 460.50,76.75 461.02,76.93 461.54,77.12 462.05,77.30 462.57,77.48 463.09,77.66 463.60,77.84 464.12,78.02 464.63,78.20 465.15,78.38 465.15,72.51 465.65,72.68 466.16,72.84 466.66,73.01 467.17,73.17 467.67,73.34 468.17,73.50 468.68,73.67 469.18,73.83 469.68,73.99 470.19,74.16 470.69,74.32 471.20,74.48 471.70,74.64 472.20,74.81 472.71,74.97 473.21,75.13 473.72,75.29 474.22,75.45 474.72,75.61 475.23,75.77 475.73,75.93 476.23,76.08 476.74,76.24 477.24,76.40 477.75,76.56 478.25,76.71 478.25,71.59 478.77,71.75 479.28,71.90 479.80,72.05 480.31,72.21 480.83,72.36 481.35,72.51 481.86,72.66 482.38,72.81 482.89,72.96 483.41,73.11 483.93,73.26 484.44,73.41 484.96,73.56 485.47,73.71 485.99,73.86 486.50,74.01 487.02,74.16 487.54,74.30 488.05,74.45 488.57,74.60 489.08,74.75 489.60,74.89 490.12,75.04 490.63,75.19 491.15,75.33 491.66,75.48 492.18,75.62 492.70,75.77 493.21,75.91 493.73,76.06 494.24,76.20 494.76,76.34 495.27,76.49 495.79,76.63 496.31,76.77 496.82,76.92 497.34,77.06 497.85,77.20 498.37,77.34 498.89,77.48 499.40,77.63 499.92,77.77 500.43,77.91 500.95,78.05 501.47,78.19 501.98,78.33 502.50,78.47 503.01,78.61 503.53,78.74 504.05,78.88 504.56,79.02 505.08,79.16 505.59,79.30 506.11,79.44 506.62,79.57 507.14,79.71 507.66,79.85 508.17,79.98 508.69,80.12 509.20,80.26 509.72,80.39 510.24,80.53 510.75,80.66 511.27,80.80 511.78,80.93 512.30,81.07 512.30,76.31 512.81,76.43 513.32,76.56 513.82,76.69 514.33,76.81 514.84,76.94 515.35,77.07 515.86,77.19 516.37,77.32 516.87,77.44 517.38,77.57 517.89,77.69 518.40,77.82 518.91,77.94 519.41,78.07 519.92,78.19 520.43,78.31 520.94,78.44 521.45,78.56 521.95,78.69 522.46,78.81 522.97,78.93 523.48,79.05 523.99,79.18 524.50,79.30 525.00,79.42 525.51,79.54 526.02,79.66 526.53,79.79 527.04,79.91 527.54,80.03 528.05,80.15 528.56,80.27 529.07,80.39 529.58,80.51 530.08,80.63 530.59,80.75 531.10,80.87 531.61,80.99 532.12,81.11 532.63,81.23 533.13,81.34 533.64,81.46 534.15,81.58 534.15,77.25 534.67,77.37 535.18,77.48 535.70,77.60 536.22,77.71 536.73,77.83 537.25,77.94 537.77,78.06 538.28,78.17 538.80,78.29 539.32,78.40 539.83,78.52 540.35,78.63 540.35,74.76 540.83,74.86 541.31,74.97 541.79,75.07 542.27,75.17 542.75,75.27 543.23,75.37 543.70,75.47 544.18,75.58 544.66,75.68 545.14,75.78 545.62,75.88 546.10,75.98 546.10,72.50 546.61,72.60 547.13,72.70 547.64,72.81 548.15,72.91 548.67,73.02 549.18,73.12 549.69,73.22 550.20,73.33 550.72,73.43 551.23,73.53 551.74,73.63 552.26,73.74 552.77,73.84 553.28,73.94 553.80,74.04 554.31,74.15 554.82,74.25 555.33,74.35 555.85,74.45 556.36,74.55 556.87,74.65 557.39,74.75 557.90,74.86 557.90,71.66 558.42,71.76 558.93,71.86 559.45,71.96 559.97,72.05 560.48,72.15 561.00,72.25 561.00,69.35 561.51,69.44 562.02,69.53 562.52,69.63 563.03,69.72 563.54,69.81 564.05,69.90 564.56,70.00 565.07,70.09 565.58,70.18 566.08,70.27 566.59,70.37 567.10,70.46 567.61,70.55 568.12,70.64 568.62,70.73 569.13,70.83 569.64,70.92 570.15,71.01 570.66,71.10 571.17,71.19 571.67,71.28 572.18,71.37 572.69,71.46 573.20,71.56 573.71,71.65 574.22,71.74 574.73,71.83 575.23,71.92 575.74,72.01 576.25,72.10 576.76,72.19 577.27,72.28 577.77,72.37 578.28,72.46 578.79,72.55 579.30,72.64 579.81,72.73 580.32,72.81 580.83,72.90 581.33,72.99 581.84,73.08 582.35,73.17 582.35,70.43 582.86,70.51 583.36,70.60 583.87,70.68 584.38,70.77 584.88,70.86 585.39,70.94 585.90,71.03 586.40,71.11 586.91,71.20 587.42,71.28 587.92,71.37 588.43,71.45 588.93,71.54 589.44,71.62 589.95,71.71 590.45,71.79 590.96,71.88 591.47,71.96 591.97,72.04 592.48,72.13 592.99,72.21 593.49,72.30 594.00,72.38"/>
</g>
<text class="sr" transform="translate(309.5,115.3) rotate(-90)" text-anchor="middle" textLength="46.5" lengthAdjust="spacingAndGlyphs">Cost ratio</text>
<text class="sr" x="429.3" y="245.4"><tspan textLength="64.2" lengthAdjust="spacingAndGlyphs">Time instance</tspan><tspan class="it" x="497.0">t</tspan></text>
<rect x="343.5" y="20.0" width="175.0" height="31.0" fill="#fff" stroke="#000" stroke-width="1"/>
<path d="M348.0 28.30H371.8" stroke="#000" stroke-width="1.2" fill="none"/>
<path d="M348.0 42.30H371.8" stroke="#00ff00" stroke-width="1.2" fill="none"/>
<text class="sr" x="374.7" y="31.4"><tspan textLength="77.2" lengthAdjust="spacingAndGlyphs">Processing ratio</tspan><tspan class="it" x="455.9">C</tspan><tspan class="sub" dy="1.8" textLength="4.3" lengthAdjust="spacingAndGlyphs">p</tspan><tspan dy="1.1" x="468.9" style="font-size:16.5px;stroke-width:0.1px">/</tspan><tspan class="it" dy="-2.9" x="474.2">C</tspan><tspan class="sub" dy="1.8" textLength="7.4" lengthAdjust="spacingAndGlyphs">M</tspan></text>
<text class="sr" x="374.7" y="45.4"><tspan textLength="102.8" lengthAdjust="spacingAndGlyphs">Communication ratio</tspan><tspan class="it" x="481.2">C</tspan><tspan class="sub" dy="1.8" textLength="3.8" lengthAdjust="spacingAndGlyphs">c</tspan><tspan dy="1.1" x="493.8" style="font-size:16.5px;stroke-width:0.1px">/</tspan><tspan class="it" dy="-2.9" x="499.1">C</tspan><tspan class="sub" dy="1.8" textLength="7.4" lengthAdjust="spacingAndGlyphs">M</tspan></text>
</svg></body></html>
